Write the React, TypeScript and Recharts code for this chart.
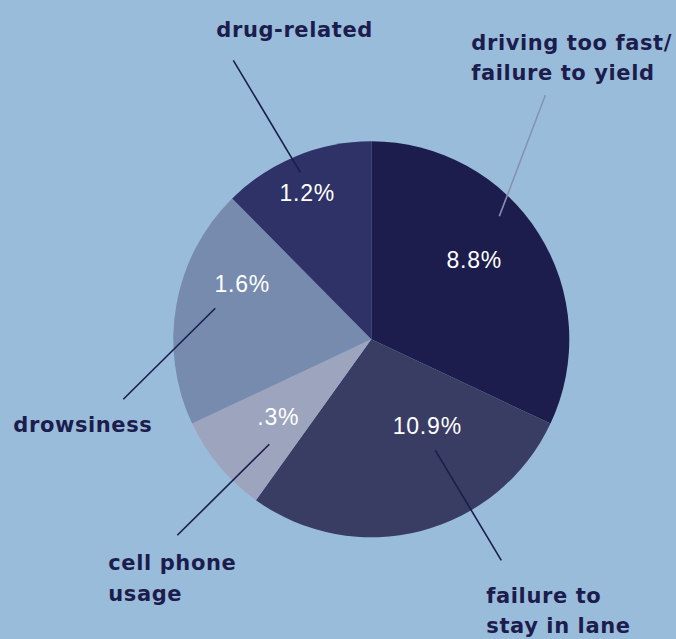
import { Pie, PieChart, Cell } from 'recharts';

// share of the pie each cause takes
const shares = [32.0, 27.9, 8.1, 19.6, 12.4];
const pctLabels = ['8.8%', '10.9%', '.3%', '1.6%', '1.2%'];
const causes = [
  ['driving too fast/', 'failure to yield'],
  ['failure to', 'stay in lane'],
  ['cell phone', 'usage'],
  ['drowsiness'],
  ['drug-related'],
];
const colors = ['#1c1d4d', '#393d64', '#9da4bd', '#768bad', '#2f3267'];

// label placement, offsets from the pie centre
const layout = [
  { pct: [103, -71], line: [[128, -123], [174, -244]], name: [100, -289], gap: 29.5, lineColor: '#8792b2' },
  { pct: [56, 95], line: [[64, 111], [130, 221]], name: [115, 264], gap: 29.7, lineColor: '#1c1d4d' },
  { pct: [-93, 86], line: [[-102, 105], [-194, 196]], name: [-263, 231], gap: 31, lineColor: '#1c1d4d' },
  { pct: [-129, -47], line: [[-156, -31], [-248, 60]], name: [-358, 93], gap: 30, lineColor: '#1c1d4d' },
  { pct: [-64, -138], line: [[-71, -167], [-138, -279]], name: [-155, -302], gap: 30, lineColor: '#1c1d4d' },
];

const data = shares.map((v, i) => ({ name: causes[i].join(' '), value: v }));

const PCT_FONT = '"Liberation Sans", Arial, sans-serif';
const NAME_FONT = '"DejaVu Sans", Verdana, sans-serif';

function renderLabel(props: any) {
  const { cx, cy, index } = props;
  const l = layout[index];
  const [a, b] = l.line;
  return (
    <g key={`lbl-${index}`}>
      <line
        x1={cx + a[0]} y1={cy + a[1]} x2={cx + b[0]} y2={cy + b[1]}
        stroke={l.lineColor} strokeWidth={1.6}
      />
      <text
        x={cx + l.pct[0]} y={cy + l.pct[1]} textAnchor="middle"
        fill="#ffffff" fontSize={23} fontFamily={PCT_FONT} letterSpacing={0.8}
      >
        {pctLabels[index]}
      </text>
      {causes[index].map((s, k) => (
        <text
          key={k}
          x={cx + l.name[0]} y={cy + l.name[1] + k * l.gap}
          fill="#1c1d4d" fontSize={21} fontWeight="bold" fontFamily={NAME_FONT} letterSpacing={0.6}
        >
          {s}
        </text>
      ))}
    </g>
  );
}

export default function App() {
  return (
    <div style={{ position: 'absolute', left: 0, top: 0, width: 676, height: 639, background: '#99bcdb' }}>
      <PieChart width={676} height={639} margin={{ top: 0, right: 0, bottom: 0, left: 0 }}>
        <Pie
          data={data}
          dataKey="value"
          cx={371.3}
          cy={339.3}
          outerRadius={198}
          startAngle={90}
          endAngle={-270}
          stroke="none"
          label={renderLabel}
          labelLine={false}
          isAnimationActive={false}
        >
          {data.map((d, i) => (
            <Cell key={d.name} fill={colors[i]} />
          ))}
        </Pie>
      </PieChart>
    </div>
  );
}
